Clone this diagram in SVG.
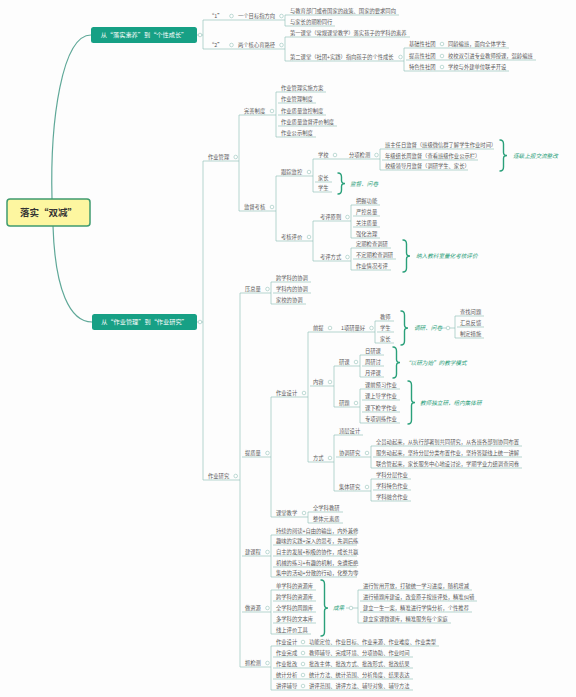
<svg xmlns="http://www.w3.org/2000/svg" width="576" height="697" viewBox="0 0 576 697">
<style>
.t{font-family:"Noto Sans CJK SC","Noto Sans",sans-serif;font-size:5.3px;fill:#5a5a5a}
.u{stroke:#95c3ba;stroke-width:.7;fill:none}
.l{stroke:#95c3ba;stroke-width:.7;fill:none}
.d{fill:#fff;stroke:#95c3ba;stroke-width:.6}
.b{stroke:#2aa07a;stroke-width:1.4;fill:none;stroke-linecap:round}
.bl{font-family:"Noto Sans CJK SC","Noto Sans",sans-serif;font-size:5.6px;fill:#2aa07a;font-style:italic}
.mb{fill:#17a085}
.mt{font-family:"Noto Sans CJK SC","Noto Sans",sans-serif;font-size:6.2px;fill:#fff;text-anchor:middle}
.c{stroke:#5fa898;stroke-width:1.2;fill:none}
</style>
<rect width="576" height="697" fill="#fdfdfd"/>
<g id="connectors">
<path class="c" d="M52 199C50 120 62 35 91 35"/>
<path class="c" d="M53 226C55 290 70 322 92 322"/>
<path class="l" d="M197 35H203M206 20H203V49H206M228 20H235M228 49H235M278 20H285M287 15H285V26H287M278 49H285M287 37H285V61H287M397 61H404M406 48H404V71H406"/>
<path class="l" d="M197 322H203M205 161H203V480H205M232 161H239M241 115H239V211H241M268 115H276M278 92H276V137H278M268 211H276M278 176H276V241H278M305 176H313M315 159H313V192H315M373 159H380M382 149H380V170H382M305 241H313M317 221H313V261H317M344 221H351M353 205H351V238H353M344 261H351M353 248H351V270H353"/>
<path class="l" d="M232 480H240M242 293H240V667H242M264 293H271M273 282H271V304H273M264 457H271M273 397H271V517H273M300 397H308M310 332H308V462H310M368 332H375M377 321H375V343H377M442 328H455M457 316H455V338H457M327 386H334M336 366H334V407H336M353 366H360M362 355H360V377H362M353 407H360M362 389H360V423H362M327 462H334M336 435H334V491H336M363 457H371M373 446H371V468H373M363 491H371M373 479H371V501H373M300 517H308M310 512H308V523H310M264 556H271M273 535H271V577H273M264 612H271M273 590H271V634H273M346 608H358M360 590H358V623H360M264 667H271M273 646H271V690H273"/>
<g>
<circle class="d" cx="200" cy="35" r="1.8"/><circle class="d" cx="231.5" cy="16" r="1.8"/><circle class="d" cx="231.5" cy="45" r="1.8"/><circle class="d" cx="281.5" cy="16" r="1.8"/><circle class="d" cx="281.5" cy="45" r="1.8"/><circle class="d" cx="400.5" cy="57" r="1.8"/><circle class="d" cx="442" cy="44" r="1.8"/><circle class="d" cx="442" cy="56" r="1.8"/><circle class="d" cx="442" cy="67" r="1.8"/>
<circle class="d" cx="200" cy="322" r="1.8"/><circle class="d" cx="235.7" cy="157" r="1.8"/><circle class="d" cx="272" cy="111" r="1.8"/><circle class="d" cx="272" cy="207" r="1.8"/><circle class="d" cx="309" cy="172" r="1.8"/><circle class="d" cx="335" cy="155" r="1.8"/><circle class="d" cx="376.5" cy="155" r="1.8"/><circle class="d" cx="309" cy="237" r="1.8"/><circle class="d" cx="347.5" cy="217" r="1.8"/><circle class="d" cx="347.5" cy="257" r="1.8"/>
<circle class="d" cx="235.7" cy="476" r="1.8"/><circle class="d" cx="267.5" cy="289" r="1.8"/><circle class="d" cx="267.5" cy="453" r="1.8"/><circle class="d" cx="304" cy="393" r="1.8"/><circle class="d" cx="330" cy="328" r="1.8"/><circle class="d" cx="371.5" cy="328" r="1.8"/><circle class="d" cx="448" cy="328" r="1.8"/><circle class="d" cx="330" cy="382" r="1.8"/><circle class="d" cx="356" cy="362" r="1.8"/><circle class="d" cx="356" cy="403" r="1.8"/><circle class="d" cx="330" cy="458" r="1.8"/><circle class="d" cx="367" cy="453" r="1.8"/><circle class="d" cx="367" cy="487" r="1.8"/><circle class="d" cx="304" cy="513" r="1.8"/><circle class="d" cx="267.5" cy="552" r="1.8"/><circle class="d" cx="267.5" cy="608" r="1.8"/><circle class="d" cx="351" cy="608" r="1.8"/><circle class="d" cx="267.5" cy="663" r="1.8"/>
<circle class="d" cx="303" cy="642" r="1.8"/><circle class="d" cx="303" cy="653" r="1.8"/><circle class="d" cx="303" cy="664" r="1.8"/><circle class="d" cx="303" cy="675" r="1.8"/><circle class="d" cx="303" cy="686" r="1.8"/>
</g>
</g>
<g id="braces">
<path class="b" d="M500 140Q503.5 140 503.5 144L503.5 152.5Q503.5 155.5 507 155.5Q503.5 155.5 503.5 158.5L503.5 167Q503.5 171 500 171"/>
<path class="b" d="M338 173Q341.5 173 341.5 177L341.5 180.5Q341.5 183.5 345 183.5Q341.5 183.5 341.5 186.5L341.5 190Q341.5 194 338 194"/>
<path class="b" d="M403 240Q406.5 240 406.5 244L406.5 253Q406.5 256 410 256Q406.5 256 406.5 259L406.5 268Q406.5 272 403 272"/>
<path class="b" d="M401 311Q404.5 311 404.5 315L404.5 325Q404.5 328 408 328Q404.5 328 404.5 331L404.5 341Q404.5 345 401 345"/>
<path class="b" d="M393 347Q396.5 347 396.5 351L396.5 359.5Q396.5 362.5 400 362.5Q396.5 362.5 396.5 365.5L396.5 374Q396.5 378 393 378"/>
<path class="b" d="M408 381Q411.5 381 411.5 385L411.5 399.5Q411.5 402.5 415 402.5Q411.5 402.5 411.5 405.5L411.5 420Q411.5 424 408 424"/>
<path class="b" d="M321 580Q324.5 580 324.5 584L324.5 605Q324.5 608 328 608Q324.5 608 324.5 611L324.5 632Q324.5 636 321 636"/>
<text class="bl" x="513" y="157.5">逐级上报交流整改</text>
<text class="bl" x="350" y="186">监督、问卷</text>
<text class="bl" x="416" y="258">纳入教科室量化考核评价</text>
<text class="bl" x="414" y="330">调研、问卷</text>
<text class="bl" x="405" y="364.5">“以研为始”的教学模式</text>
<text class="bl" x="420" y="404.5">教师独立研，组内集体研</text>
<text class="bl" x="333" y="610">成果</text>
</g>
<g id="root"><rect x="7" y="199" width="83" height="27" rx="3" fill="#fdf6a0" stroke="#3f9b6f" stroke-width="1.5"/><text x="48.5" y="215.5" text-anchor="middle" font-family="Noto Sans CJK SC, sans-serif" font-size="9.5" font-weight="bold" fill="#333">落实“双减”</text></g>
<g id="b1"><rect class="mb" x="91" y="27" width="106" height="16" rx="2.5"/><text class="mt" x="144" y="37.2">从“落实素养”到“个性成长”</text></g>
<g id="b2"><rect class="mb" x="92" y="314" width="105" height="16" rx="2.5"/><text class="mt" x="144.5" y="324.2">从“作业管理”到“作业研究”</text></g>
<g id="top">
<g id="t1"><line class="u" x1="206" y1="20" x2="228" y2="20"/><text class="t" x="209" y="18">“1”</text></g>
<g id="t1a"><line class="u" x1="235" y1="20" x2="278" y2="20"/><text class="t" x="238" y="18">一个目标指方向</text></g>
<g id="t1a1"><line class="u" x1="287" y1="15" x2="399" y2="15"/><text class="t" x="290" y="13">与教育部门或者国家的政策、国家的要求同向</text></g>
<g id="t1a2"><line class="u" x1="287" y1="26" x2="335" y2="26"/><text class="t" x="290" y="24">与家长的期盼同行</text></g>
<g id="t2"><line class="u" x1="206" y1="49" x2="228" y2="49"/><text class="t" x="209" y="47">“2”</text></g>
<g id="t2a"><line class="u" x1="235" y1="49" x2="278" y2="49"/><text class="t" x="238" y="47">两个核心育路径</text></g>
<g id="t2a1"><line class="u" x1="287" y1="37" x2="410" y2="37"/><text class="t" x="290" y="35">第一课堂（常规课堂教学）落实孩子的学科的素养</text></g>
<g id="t2a2"><line class="u" x1="287" y1="61" x2="397" y2="61"/><text class="t" x="290" y="59">第二课堂（社团+实践）指向孩子的个性成长</text></g>
<g id="s1"><line class="u" x1="406" y1="48" x2="509" y2="48"/><text class="t" x="409" y="46">基础性社团</text><text class="t" x="448" y="46">同龄编班，面向全体学生</text></g>
<g id="s2"><line class="u" x1="406" y1="60" x2="536" y2="60"/><text class="t" x="409" y="58">提高性社团</text><text class="t" x="448" y="58">校校双引进专业教师授课，混龄编班</text></g>
<g id="s3"><line class="u" x1="406" y1="71" x2="509" y2="71"/><text class="t" x="409" y="69">特色性社团</text><text class="t" x="448" y="69">学校与外建单位联手开设</text></g>
</g>
<g id="mgmt">
<g id="m0"><line class="u" x1="205" y1="161" x2="232" y2="161"/><text class="t" x="208" y="159">作业管理</text></g>
<g id="m1"><line class="u" x1="241" y1="115" x2="268" y2="115"/><text class="t" x="244" y="113">完善制度</text></g>
<g id="m1a"><line class="u" x1="278" y1="92" x2="326" y2="92"/><text class="t" x="281" y="90">作业管理实施方案</text></g>
<g id="m1b"><line class="u" x1="278" y1="103" x2="316" y2="103"/><text class="t" x="281" y="101">作业管理制度</text></g>
<g id="m1c"><line class="u" x1="278" y1="115" x2="326" y2="115"/><text class="t" x="281" y="113">作业质量监控制度</text></g>
<g id="m1d"><line class="u" x1="278" y1="126" x2="337" y2="126"/><text class="t" x="281" y="124">作业质量监督评价制度</text></g>
<g id="m1e"><line class="u" x1="278" y1="137" x2="316" y2="137"/><text class="t" x="281" y="135">作业公示制度</text></g>
<g id="m2"><line class="u" x1="241" y1="211" x2="268" y2="211"/><text class="t" x="244" y="209">监督考核</text></g>
<g id="m2a"><line class="u" x1="278" y1="176" x2="305" y2="176"/><text class="t" x="281" y="174">跟踪监控</text></g>
<g id="m2a1"><line class="u" x1="315" y1="159" x2="373" y2="159"/><text class="t" x="318" y="157">学校</text><text class="t" x="349" y="157">分项检测</text></g>
<g id="m2a1a"><line class="u" x1="382" y1="149" x2="494" y2="149"/><text class="t" x="385" y="147">班主任日监督（班级微信群了解学生作业时间）</text></g>
<g id="m2a1b"><line class="u" x1="382" y1="160" x2="478" y2="160"/><text class="t" x="385" y="158">年级组长周监督（查看班级作业公示栏）</text></g>
<g id="m2a1c"><line class="u" x1="382" y1="170" x2="468" y2="170"/><text class="t" x="385" y="168">校级领导月监督（调研学生、家长）</text></g>
<g id="m2a2"><line class="u" x1="315" y1="182" x2="332" y2="182"/><text class="t" x="318" y="180">家长</text></g>
<g id="m2a3"><line class="u" x1="315" y1="192" x2="332" y2="192"/><text class="t" x="318" y="190">学生</text></g>
<g id="m2b"><line class="u" x1="278" y1="241" x2="305" y2="241"/><text class="t" x="281" y="239">考核评价</text></g>
<g id="m2b1"><line class="u" x1="317" y1="221" x2="344" y2="221"/><text class="t" x="320" y="219">考评原则</text></g>
<g id="m2b1a"><line class="u" x1="353" y1="205" x2="380" y2="205"/><text class="t" x="356" y="203">把握功能</text></g>
<g id="m2b1b"><line class="u" x1="353" y1="216" x2="380" y2="216"/><text class="t" x="356" y="214">严控总量</text></g>
<g id="m2b1c"><line class="u" x1="353" y1="227" x2="380" y2="227"/><text class="t" x="356" y="225">关注质量</text></g>
<g id="m2b1d"><line class="u" x1="353" y1="238" x2="380" y2="238"/><text class="t" x="356" y="236">强化治理</text></g>
<g id="m2b2"><line class="u" x1="317" y1="261" x2="344" y2="261"/><text class="t" x="320" y="259">考评方式</text></g>
<g id="m2b2a"><line class="u" x1="353" y1="248" x2="391" y2="248"/><text class="t" x="356" y="246">定期检查调研</text></g>
<g id="m2b2b"><line class="u" x1="353" y1="259" x2="396" y2="259"/><text class="t" x="356" y="257">不定期检查调研</text></g>
<g id="m2b2c"><line class="u" x1="353" y1="270" x2="391" y2="270"/><text class="t" x="356" y="268">作业情况考评</text></g>
</g>
<g id="research">
<g id="r0"><line class="u" x1="205" y1="480" x2="232" y2="480"/><text class="t" x="208" y="478">作业研究</text></g>
<g id="r1"><line class="u" x1="242" y1="293" x2="264" y2="293"/><text class="t" x="245" y="291">压总量</text></g>
<g id="r1a"><line class="u" x1="273" y1="282" x2="311" y2="282"/><text class="t" x="276" y="280">跨学科的协调</text></g>
<g id="r1b"><line class="u" x1="273" y1="293" x2="311" y2="293"/><text class="t" x="276" y="291">学科内的协调</text></g>
<g id="r1c"><line class="u" x1="273" y1="304" x2="306" y2="304"/><text class="t" x="276" y="302">家校的协调</text></g>
<g id="r2"><line class="u" x1="242" y1="457" x2="264" y2="457"/><text class="t" x="245" y="455">提质量</text></g>
<g id="r2a"><line class="u" x1="273" y1="397" x2="300" y2="397"/><text class="t" x="276" y="395">作业设计</text></g>
<g id="r2a1"><line class="u" x1="310" y1="332" x2="368" y2="332"/><text class="t" x="313" y="330">前提</text><text class="t" x="341" y="330">1项研量好</text></g>
<g id="r2a1a"><line class="u" x1="377" y1="321" x2="394" y2="321"/><text class="t" x="380" y="319">教师</text></g>
<g id="r2a1b"><line class="u" x1="377" y1="332" x2="394" y2="332"/><text class="t" x="380" y="330">学生</text></g>
<g id="r2a1c"><line class="u" x1="377" y1="343" x2="394" y2="343"/><text class="t" x="380" y="341">家长</text></g>
<g id="r2a1d"><line class="u" x1="457" y1="316" x2="484" y2="316"/><text class="t" x="460" y="314">查找问题</text></g>
<g id="r2a1e"><line class="u" x1="457" y1="327" x2="484" y2="327"/><text class="t" x="460" y="325">汇总反馈</text></g>
<g id="r2a1f"><line class="u" x1="457" y1="338" x2="484" y2="338"/><text class="t" x="460" y="336">制定措施</text></g>
<g id="r2a2"><line class="u" x1="310" y1="386" x2="327" y2="386"/><text class="t" x="313" y="384">内容</text></g>
<g id="r2a2a"><line class="u" x1="336" y1="366" x2="353" y2="366"/><text class="t" x="339" y="364">研课</text></g>
<g id="r2a2a1"><line class="u" x1="362" y1="355" x2="384" y2="355"/><text class="t" x="365" y="353">日研课</text></g>
<g id="r2a2a2"><line class="u" x1="362" y1="366" x2="384" y2="366"/><text class="t" x="365" y="364">周研讨</text></g>
<g id="r2a2a3"><line class="u" x1="362" y1="377" x2="384" y2="377"/><text class="t" x="365" y="375">月评课</text></g>
<g id="r2a2b"><line class="u" x1="336" y1="407" x2="353" y2="407"/><text class="t" x="339" y="405">研题</text></g>
<g id="r2a2b1"><line class="u" x1="362" y1="389" x2="400" y2="389"/><text class="t" x="365" y="387">课前预习作业</text></g>
<g id="r2a2b2"><line class="u" x1="362" y1="400" x2="400" y2="400"/><text class="t" x="365" y="398">课上导学作业</text></g>
<g id="r2a2b3"><line class="u" x1="362" y1="412" x2="400" y2="412"/><text class="t" x="365" y="410">课下检学作业</text></g>
<g id="r2a2b4"><line class="u" x1="362" y1="423" x2="400" y2="423"/><text class="t" x="365" y="421">专项训练作业</text></g>
<g id="r2a3"><line class="u" x1="310" y1="462" x2="327" y2="462"/><text class="t" x="313" y="460">方式</text></g>
<g id="r2a3a"><line class="u" x1="336" y1="435" x2="363" y2="435"/><text class="t" x="339" y="433">顶层设计</text></g>
<g id="r2a3b"><line class="u" x1="336" y1="457" x2="363" y2="457"/><text class="t" x="339" y="455">协调研究</text></g>
<g id="r2a3b1"><line class="u" x1="373" y1="446" x2="522" y2="446"/><text class="t" x="376" y="444">全员动起来，从执行部署到共同研究，从各班各部到协同布置</text></g>
<g id="r2a3b2"><line class="u" x1="373" y1="457" x2="522" y2="457"/><text class="t" x="376" y="455">服务动起来，坚持分层分类布置作业，坚持答疑线上统一讲解</text></g>
<g id="r2a3b3"><line class="u" x1="373" y1="468" x2="522" y2="468"/><text class="t" x="376" y="466">联合管起来，家长服务中心地设讨论，学期学业力组调查问卷</text></g>
<g id="r2a3c"><line class="u" x1="336" y1="491" x2="363" y2="491"/><text class="t" x="339" y="489">集体研究</text></g>
<g id="r2a3c1"><line class="u" x1="373" y1="479" x2="411" y2="479"/><text class="t" x="376" y="477">学科分层作业</text></g>
<g id="r2a3c2"><line class="u" x1="373" y1="490" x2="411" y2="490"/><text class="t" x="376" y="488">学科特色作业</text></g>
<g id="r2a3c3"><line class="u" x1="373" y1="501" x2="411" y2="501"/><text class="t" x="376" y="499">学科融合作业</text></g>
<g id="r2b"><line class="u" x1="273" y1="517" x2="300" y2="517"/><text class="t" x="276" y="515">课堂教学</text></g>
<g id="r2b1"><line class="u" x1="310" y1="512" x2="343" y2="512"/><text class="t" x="313" y="510">全学科教研</text></g>
<g id="r2b2"><line class="u" x1="310" y1="523" x2="343" y2="523"/><text class="t" x="313" y="521">整体元素质</text></g>
<g id="r3"><line class="u" x1="242" y1="556" x2="264" y2="556"/><text class="t" x="245" y="554">建课程</text></g>
<g id="r3a"><line class="u" x1="273" y1="535" x2="357" y2="535"/><text class="t" x="276" y="533">持续的阅读+自由的输出，内外兼修</text></g>
<g id="r3b"><line class="u" x1="273" y1="545" x2="357" y2="545"/><text class="t" x="276" y="543">趣味的实践+深入的思考，先调后练</text></g>
<g id="r3c"><line class="u" x1="273" y1="556" x2="357" y2="556"/><text class="t" x="276" y="554">自主的发展+积极的协作，成长共赢</text></g>
<g id="r3d"><line class="u" x1="273" y1="567" x2="357" y2="567"/><text class="t" x="276" y="565">机械的练习+有趣的机制，免遭拒绝</text></g>
<g id="r3e"><line class="u" x1="273" y1="577" x2="357" y2="577"/><text class="t" x="276" y="575">集中的活动+分散的行动，化整为零</text></g>
<g id="r4"><line class="u" x1="242" y1="612" x2="264" y2="612"/><text class="t" x="245" y="610">做资源</text></g>
<g id="r4a"><line class="u" x1="273" y1="590" x2="316" y2="590"/><text class="t" x="276" y="588">单学科的资源库</text></g>
<g id="r4b"><line class="u" x1="273" y1="601" x2="316" y2="601"/><text class="t" x="276" y="599">跨学科的资源库</text></g>
<g id="r4c"><line class="u" x1="273" y1="612" x2="316" y2="612"/><text class="t" x="276" y="610">全学科的周题库</text></g>
<g id="r4d"><line class="u" x1="273" y1="623" x2="316" y2="623"/><text class="t" x="276" y="621">多学科的文本库</text></g>
<g id="r4e"><line class="u" x1="273" y1="634" x2="311" y2="634"/><text class="t" x="276" y="632">线上评价工具</text></g>
<g id="r4f"><line class="u" x1="360" y1="590" x2="472" y2="590"/><text class="t" x="363" y="588">进行智用开放，打破统一学习进度，随机增减</text></g>
<g id="r4g"><line class="u" x1="360" y1="601" x2="477" y2="601"/><text class="t" x="363" y="599">进行错题库建设，改变原子按班评处，精准纠错</text></g>
<g id="r4h"><line class="u" x1="360" y1="612" x2="472" y2="612"/><text class="t" x="363" y="610">建立一生一案，精准进行学情分析，个性推荐</text></g>
<g id="r4i"><line class="u" x1="360" y1="623" x2="451" y2="623"/><text class="t" x="363" y="621">建立家课微课库，精准服务每个家庭</text></g>
<g id="r5"><line class="u" x1="242" y1="667" x2="264" y2="667"/><text class="t" x="245" y="665">抓检测</text></g>
<g id="r5a"><line class="u" x1="273" y1="646" x2="439" y2="646"/><text class="t" x="276" y="644">作业设计</text><text class="t" x="309" y="644">功能定位、作业目标、作业来源、作业难度、作业类型</text></g>
<g id="r5b"><line class="u" x1="273" y1="657" x2="413" y2="657"/><text class="t" x="276" y="655">作业完成</text><text class="t" x="309" y="655">教师辅导、完成环境、分项协助、作业时间</text></g>
<g id="r5c"><line class="u" x1="273" y1="668" x2="413" y2="668"/><text class="t" x="276" y="666">作业批改</text><text class="t" x="309" y="666">批改主体、批改方式、批改形式、批改结果</text></g>
<g id="r5d"><line class="u" x1="273" y1="679" x2="413" y2="679"/><text class="t" x="276" y="677">统计分析</text><text class="t" x="309" y="677">统计方法、统计范围、分析角度、结果表达</text></g>
<g id="r5e"><line class="u" x1="273" y1="690" x2="413" y2="690"/><text class="t" x="276" y="688">讲评辅导</text><text class="t" x="309" y="688">讲评范围、讲评方法、辅导对象、辅导方法</text></g>
</g>
</svg>
